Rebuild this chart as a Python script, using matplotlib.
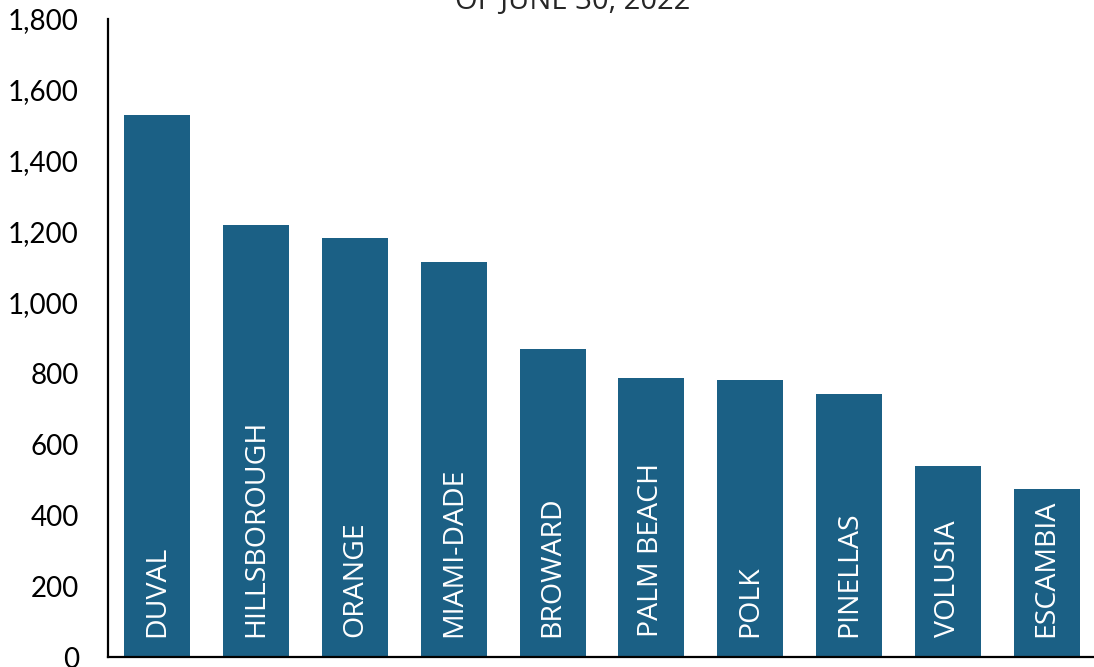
import matplotlib.pyplot as plt

# county counts as of june 30, 2022
counties = ['DUVAL', 'HILLSBOROUGH', 'ORANGE', 'MIAMI-DADE', 'BROWARD',
            'PALM BEACH', 'POLK', 'PINELLAS', 'VOLUSIA', 'ESCAMBIA']
counts = [1529, 1219, 1182, 1114, 869, 787, 781, 742, 539, 474]
yticks = [0, 200, 400, 600, 800, 1000, 1200, 1400, 1600, 1800]

bar_color = '#1B6085'

fig = plt.figure(figsize=(10.94, 6.67), dpi=100)
ax = fig.add_axes([108 / 1094, 10 / 667, 988 / 1094, 638 / 667])

x = range(len(counties))
ax.bar(x, counts, width=0.67, color=bar_color)

# labels sit inside the bars, rotated
for i, name in enumerate(counties):
    ax.text(i, 57, name, rotation=90, ha='center', va='bottom',
            color='white', fontsize=20.5, family='Open Sans')

ax.set_xlim(-0.5, len(counties) - 0.5)
ax.set_ylim(0, 1800)
ax.set_yticks(yticks)
ax.set_yticklabels([f'{v:,}' for v in yticks], family='Lato', fontsize=20)
ax.tick_params(axis='y', length=0, pad=21)
ax.set_xticks([])

for side in ['top', 'right']:
    ax.spines[side].set_visible(False)
ax.spines['left'].set_linewidth(1.6)
ax.spines['bottom'].set_linewidth(1.6)
ax.spines['left'].set_bounds(0, 1800)

# title line, mostly cut off at the top of the picture
fig.text(573 / 1094, 1 - 9 / 667, 'OF JUNE 30, 2022', ha='center',
         va='baseline', fontsize=21, color='#262626', family='Open Sans')

fig.savefig('out.png', dpi=100)
